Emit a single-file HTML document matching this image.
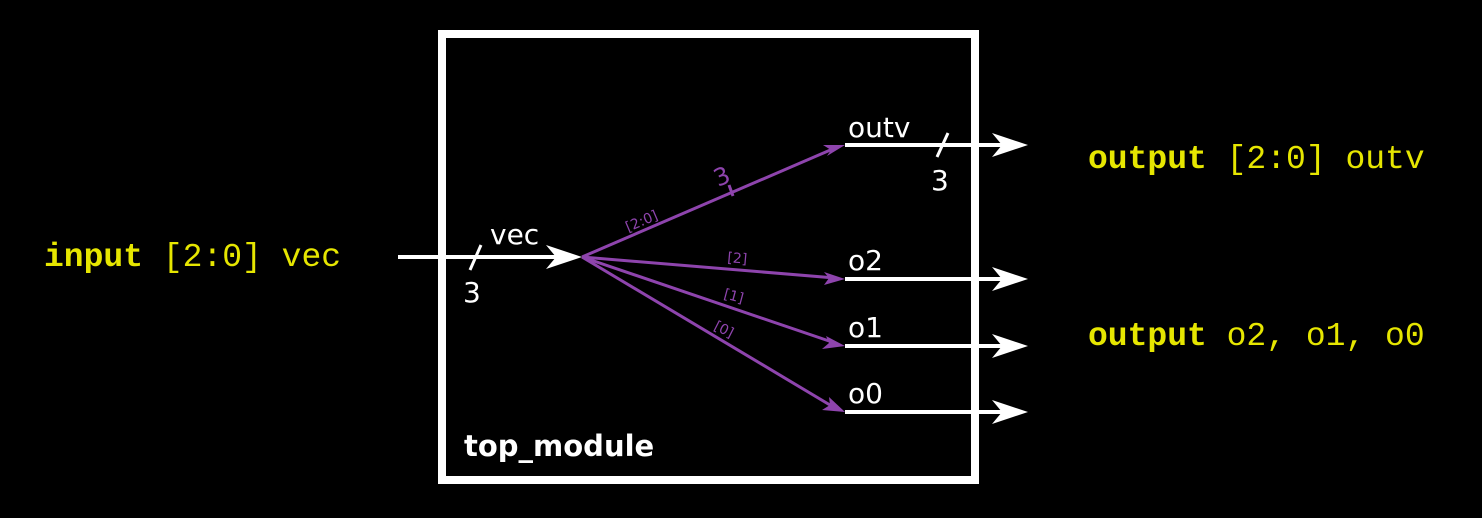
<!DOCTYPE html>
<html><head><style>
html,body{margin:0;padding:0;background:#000;}
svg{display:block}
.y{font-family:"Liberation Mono",monospace;font-size:33px;fill:#e6e600}
.w{font-family:"DejaVu Sans","Liberation Sans",sans-serif;fill:#fff}
.p{font-family:"DejaVu Sans","Liberation Sans",sans-serif;fill:#8e44ad;font-size:14px}
</style></head><body>
<svg width="1482" height="518" viewBox="0 0 1482 518">
<rect width="1482" height="518" fill="#000"/>
<rect x="442" y="34" width="533" height="446" fill="none" stroke="#fff" stroke-width="8"/>
<text class="w" x="464" y="456" font-size="29" font-weight="bold">top_module</text>
<!-- input -->
<line x1="398" y1="257" x2="565" y2="257" stroke="#fff" stroke-width="4"/>
<polygon points="582,257 546,245 556,257 546,269" fill="#fff"/>
<line x1="470" y1="270" x2="481" y2="245" stroke="#fff" stroke-width="3"/>
<text class="w" x="463" y="302" font-size="28">3</text>
<text class="w" x="490" y="244" font-size="28">vec</text>
<!-- purple -->
<g stroke="#8e44ad" stroke-width="3">
<line x1="582" y1="257" x2="835" y2="148"/>
<line x1="582" y1="257" x2="835" y2="278"/>
<line x1="582" y1="257" x2="835" y2="343"/>
<line x1="582" y1="257" x2="835" y2="408"/>
<line x1="729" y1="185" x2="733" y2="196"/>
</g>
<g fill="#8e44ad">
<polygon points="845,145 823,145 831,150 827,156"/>
<polygon points="845,279 824,272 829,278 824,285"/>
<polygon points="845,346 826,336 829,343 822,349"/>
<polygon points="845,412 829,397 830,405 822,410"/>
</g>
<text class="p" x="628" y="232" transform="rotate(-23 628 232)">[2:0]</text>
<text class="p" x="718" y="187" style="font-size:24px" transform="rotate(-23 718 187)">3</text>
<text class="p" x="727" y="262" transform="rotate(5 727 262)">[2]</text>
<text class="p" x="723" y="298" transform="rotate(15 723 298)">[1]</text>
<text class="p" x="713" y="329" transform="rotate(27 713 329)">[0]</text>
<!-- outputs -->
<g stroke="#fff" stroke-width="4">
<line x1="845" y1="145" x2="1010" y2="145"/>
<line x1="845" y1="279" x2="1010" y2="279"/>
<line x1="845" y1="346" x2="1010" y2="346"/>
<line x1="845" y1="412" x2="1010" y2="412"/>
<line x1="937" y1="157" x2="948" y2="133" stroke-width="3"/>
</g>
<g fill="#fff">
<polygon points="1028,145 992,133 1002,145 992,157"/>
<polygon points="1028,279 992,267 1002,279 992,291"/>
<polygon points="1028,346 992,334 1002,346 992,358"/>
<polygon points="1028,412 992,400 1002,412 992,424"/>
</g>
<g class="w" font-size="28">
<text x="848" y="137">outv</text>
<text x="931" y="190">3</text>
<text x="848" y="270">o2</text>
<text x="848" y="337">o1</text>
<text x="848" y="403">o0</text>
</g>
<text class="y" x="44" y="266"><tspan font-weight="bold">input</tspan> [2:0] vec</text>
<text class="y" x="1088" y="168"><tspan font-weight="bold">output</tspan> [2:0] outv</text>
<text class="y" x="1088" y="345"><tspan font-weight="bold">output</tspan> o2, o1, o0</text>
</svg>
</body></html>
